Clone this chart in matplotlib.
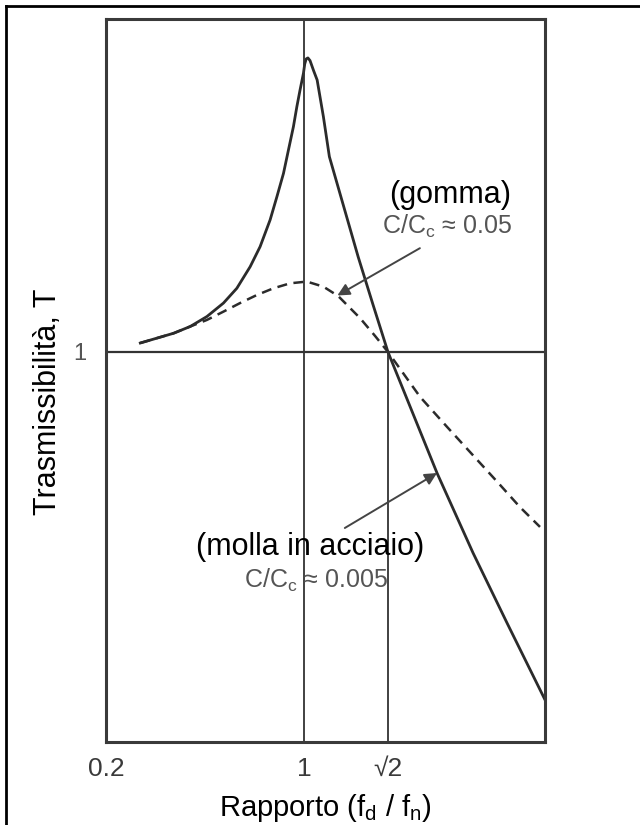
import numpy as np
import matplotlib.pyplot as plt
from matplotlib.lines import Line2D

plt.rcParams['font.family'] = ['Liberation Sans', 'DejaVu Sans']
plt.rcParams['mathtext.fontset'] = 'custom'
plt.rcParams['mathtext.rm'] = 'Liberation Sans'
plt.rcParams['mathtext.it'] = 'Liberation Sans:italic'

# curve (rapporto f_d/f_n, trasmissibilita T)
r_acciaio = [0.315, 0.438, 0.503, 0.570, 0.639, 0.696, 0.754, 0.798, 0.843,
             0.874, 0.904, 0.927, 0.950, 0.966, 0.981, 0.997, 1.003, 1.010,
             1.018, 1.028, 1.045, 1.062, 1.092, 1.121, 1.263, 1.338, 1.414,
             1.672, 1.868, 2.058, 2.275]
T_acciaio = [1.15, 1.34, 1.49, 1.74, 2.15, 2.71, 3.80, 5.20, 7.91,
             11.4, 16.4, 23.7, 34.1, 46.6, 60.6, 78.7, 91.0, 98.5,
             100.0, 96.0, 82.0, 70.8, 39.9, 21.3, 4.43, 2.09, 1.0,
             0.150, 0.0429, 0.0143, 0.0043]

r_gomma = [0.315, 0.438, 0.503, 0.570, 0.639, 0.710, 0.784, 0.858, 0.935,
           1.013, 1.092, 1.164, 1.272, 1.348, 1.414, 1.582, 1.726, 2.007,
           2.131, 2.246]
T_gomma = [1.15, 1.34, 1.49, 1.65, 1.88, 2.15, 2.44, 2.71, 2.93,
           3.01, 2.78, 2.40, 1.70, 1.285, 1.0, 0.494, 0.309, 0.129,
           0.088, 0.0645]

xticks = [0.2, 1, np.sqrt(2)]
xtick_labels = ['0.2', '1', '√2']

fig = plt.figure(figsize=(6.4, 8.25), dpi=100)
ax = fig.add_axes([106/640, 1 - 742/825, 439/640, 723/825])

ax.set_xscale('function', functions=(lambda x: np.power(x, 0.75), lambda x: np.power(x, 4/3)))
ax.set_yscale('log')
ax.set_xlim(0.2, 2.275)
ax.set_ylim(0.00222, 184)

ax.plot(r_acciaio, T_acciaio, color='#2b2b2b', lw=2.0, solid_joinstyle='round')
ax.plot(r_gomma, T_gomma, color='#2b2b2b', lw=1.8, ls=(0, (4, 2.6)))

ax.axvline(1, color='#333333', lw=1.3)
ax.axhline(1, color='#333333', lw=1.6)
ax.vlines(np.sqrt(2), 0.00222, 1, color='#333333', lw=1.3)

for s in ax.spines.values():
    s.set_linewidth(2.2)
    s.set_color('#3a3a3a')

ax.set_xticks(xticks)
ax.set_xticklabels(xtick_labels)
ax.set_yticks([1])
ax.set_yticklabels(['1'])
ax.xaxis.set_minor_locator(plt.NullLocator())
ax.yaxis.set_minor_locator(plt.NullLocator())
ax.tick_params(axis='x', length=0, pad=11, labelsize=19, labelcolor='#3a3a3a')
ax.tick_params(axis='y', length=0, pad=14, labelsize=17, labelcolor='#555555')

ax.text(-0.132, 0.47, 'Trasmissibilità, T', transform=ax.transAxes, rotation=90,
        ha='center', va='center', fontsize=22)
ax.text(0.50, -0.091, r'Rapporto (f$_\mathrm{d}$ / f$_\mathrm{n}$)', transform=ax.transAxes,
        ha='center', va='center', fontsize=21)

ax.text(0.784, 0.757, '(gomma)', transform=ax.transAxes, ha='center', va='center', fontsize=22)
ax.text(0.777, 0.713, r'C/C$_\mathrm{c}$ ≈ 0.05', transform=ax.transAxes, ha='center',
        va='center', fontsize=18, color='#555555')
ax.text(0.465, 0.270, '(molla in acciaio)', transform=ax.transAxes, ha='center',
        va='center', fontsize=22)
ax.text(0.478, 0.224, r'C/C$_\mathrm{c}$ ≈ 0.005', transform=ax.transAxes, ha='center',
        va='center', fontsize=18, color='#555555')

arrow = dict(arrowstyle='-|>', color='#444444', lw=1.4, mutation_scale=18, shrinkA=0, shrinkB=0)
ax.annotate('', xy=(1.16, 2.42), xycoords='data', xytext=(0.715, 0.683),
            textcoords='axes fraction', arrowprops=arrow)
ax.annotate('', xy=(1.672, 0.150), xycoords='data', xytext=(0.544, 0.296),
            textcoords='axes fraction', arrowprops=arrow)

# cornice esterna (solo bordo sinistro e superiore visibili)
fig.add_artist(Line2D([6/640, 6/640], [0, 1 - 6/825], color='black', lw=2))
fig.add_artist(Line2D([6/640, 1], [1 - 6/825, 1 - 6/825], color='black', lw=2))

fig.savefig('out.png', dpi=100)
